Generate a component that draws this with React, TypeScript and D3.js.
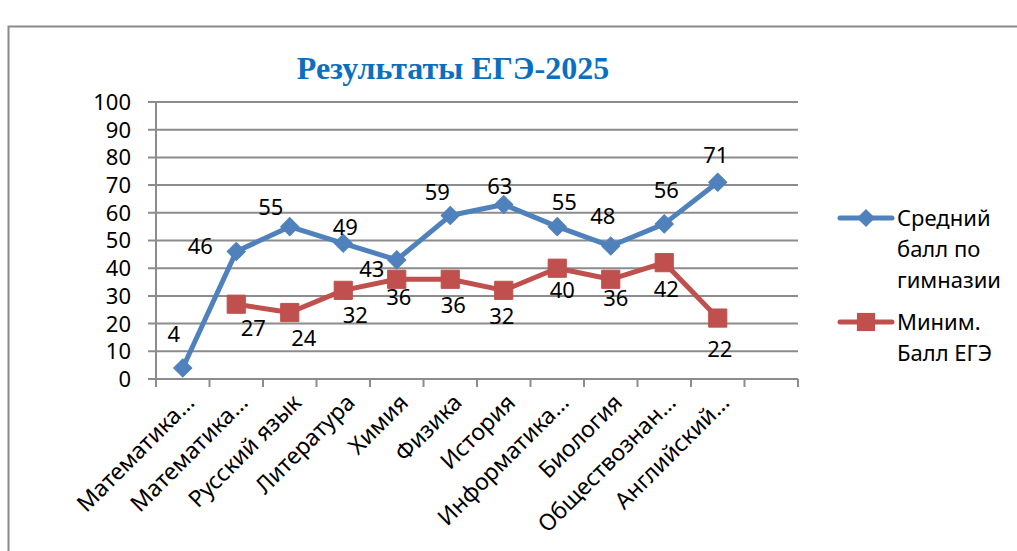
import React, { useEffect, useRef } from "react";
import * as d3 from "d3";

const categories = [
  "Математика…",
  "Математика…",
  "Русский язык",
  "Литература",
  "Химия",
  "Физика",
  "История",
  "Информатика…",
  "Биология",
  "Обществознан…",
  "Английский…",
  "",
];
const avgScores = [4, 46, 55, 49, 43, 59, 63, 55, 48, 56, 71, null];
const minScores = [null, 27, 24, 32, 36, 36, 32, 40, 36, 42, 22, null];
const yTicks = [0, 10, 20, 30, 40, 50, 60, 70, 80, 90, 100];
const seriesNames = [["Средний", "балл по", "гимназии"], ["Миним.", "Балл ЕГЭ"]];

// label nudges (Excel placed them by hand-ish)
const avgLabelShift = [
  [-9, -34], [-36, -6], [-19, -20], [2, -16], [-25, 9], [-13, -23],
  [-4, -18], [7, -25], [-8, -30], [2, -34], [-2, -27], [0, 0],
];
const minLabelShift = [
  [0, 0], [17, 24], [14, 26], [12, 25], [2, 18], [3, 26],
  [-2, 26], [5, 22], [5, 19], [2, 26], [2, 31], [0, 0],
];

const BLUE = "#4F81BD";
const RED = "#C0504D";
const GRID = "#8C8C8C";
const FONT = "'Noto Sans', sans-serif";

const App = () => {
  const ref = useRef<SVGSVGElement>(null);

  useEffect(() => {
    const width = 1017;
    const height = 551;
    const margin = { top: 102, left: 156, right: 219, bottom: 172 };

    const svg = d3.select(ref.current);
    svg.selectAll("*").remove();
    svg.attr("width", width).attr("height", height);

    svg.append("rect").attr("width", width).attr("height", height).attr("fill", "#fff");
    svg
      .append("rect")
      .attr("x", 8.5)
      .attr("y", 26.5)
      .attr("width", 1100)
      .attr("height", 700)
      .attr("fill", "none")
      .attr("stroke", "#8a8a8a")
      .attr("stroke-width", 2);

    const x = d3
      .scaleBand()
      .domain(categories.map((_, i) => String(i)))
      .range([margin.left, width - margin.right]);

    const y = d3
      .scaleLinear()
      .domain([0, 100])
      .range([height - margin.bottom, margin.top]);

    const cx = (i: number) => (x(String(i)) as number) + x.bandwidth() / 2;

    svg
      .append("text")
      .attr("x", 453)
      .attr("y", 79)
      .attr("text-anchor", "middle")
      .attr("font-family", "'Liberation Serif', serif")
      .attr("font-weight", "bold")
      .attr("font-size", 32)
      .attr("fill", "#0B6FC1")
      .text("Результаты ЕГЭ-2025");

    // gridlines
    svg
      .append("g")
      .selectAll("line")
      .data(yTicks)
      .enter()
      .append("line")
      .attr("x1", margin.left - 8)
      .attr("x2", width - margin.right)
      .attr("y1", (d) => y(d))
      .attr("y2", (d) => y(d))
      .attr("stroke", GRID)
      .attr("stroke-width", 2);

    // y axis
    svg
      .append("line")
      .attr("x1", margin.left)
      .attr("x2", margin.left)
      .attr("y1", y(100))
      .attr("y2", y(0) + 8)
      .attr("stroke", GRID)
      .attr("stroke-width", 2);

    svg
      .append("g")
      .selectAll("text")
      .data(yTicks)
      .enter()
      .append("text")
      .attr("x", margin.left - 25)
      .attr("y", (d) => y(d))
      .attr("dy", "0.36em")
      .attr("text-anchor", "end")
      .attr("font-family", FONT)
      .attr("font-size", 22)
      .attr("fill", "#000")
      .text((d) => d);

    // x ticks
    const bounds = categories.map((_, i) => x(String(i)) as number).concat([width - margin.right]);
    svg
      .append("g")
      .selectAll("line")
      .data(bounds)
      .enter()
      .append("line")
      .attr("x1", (d) => d)
      .attr("x2", (d) => d)
      .attr("y1", y(0))
      .attr("y2", y(0) + 8)
      .attr("stroke", GRID)
      .attr("stroke-width", 2);

    svg
      .append("g")
      .selectAll("text")
      .data(categories)
      .enter()
      .append("text")
      .attr("transform", (_, i) => `translate(${cx(i) + 13},${y(0) + 25}) rotate(-45)`)
      .attr("text-anchor", "end")
      .attr("font-family", FONT)
      .attr("font-size", 23)
      .attr("fill", "#000")
      .text((d) => d);

    const diamond = d3.symbol().type(d3.symbolSquare).size(165)();
    const square = d3.symbol().type(d3.symbolSquare).size(330)();

    const drawSeries = (
      values: (number | null)[],
      color: string,
      marker: string | null,
      rot: number,
      shift: number[][]
    ) => {
      const pts = values
        .map((v, i) => ({ v, i }))
        .filter((d) => d.v !== null) as { v: number; i: number }[];
      const line = d3
        .line<{ v: number; i: number }>()
        .x((d) => cx(d.i))
        .y((d) => y(d.v));
      svg
        .append("path")
        .datum(pts)
        .attr("d", line)
        .attr("fill", "none")
        .attr("stroke", color)
        .attr("stroke-width", 5)
        .attr("stroke-linejoin", "round");
      svg
        .append("g")
        .selectAll("path")
        .data(pts)
        .enter()
        .append("path")
        .attr("transform", (d) => `translate(${cx(d.i)},${y(d.v)}) rotate(${rot})`)
        .attr("d", marker)
        .attr("fill", color)
        .attr("stroke", color)
        .attr("stroke-width", 1);
      svg
        .append("g")
        .selectAll("text")
        .data(pts)
        .enter()
        .append("text")
        .attr("x", (d) => cx(d.i) + shift[d.i][0])
        .attr("y", (d) => y(d.v) + shift[d.i][1])
        .attr("dy", "0.36em")
        .attr("text-anchor", "middle")
        .attr("font-family", FONT)
        .attr("font-size", 22)
        .attr("fill", "#000")
        .text((d) => d.v);
    };

    drawSeries(avgScores, BLUE, diamond, 45, avgLabelShift);
    drawSeries(minScores, RED, square, 0, minLabelShift);

    // legend
    const legend = [
      { color: BLUE, marker: diamond, rot: 45, lines: seriesNames[0], y0: 218 },
      { color: RED, marker: square, rot: 0, lines: seriesNames[1], y0: 322 },
    ];
    legend.forEach((l) => {
      const g = svg.append("g");
      g.append("line")
        .attr("x1", 840)
        .attr("x2", 892)
        .attr("y1", l.y0)
        .attr("y2", l.y0)
        .attr("stroke", l.color)
        .attr("stroke-width", 5)
        .attr("stroke-linecap", "round");
      g.append("path")
        .attr("transform", `translate(866,${l.y0}) rotate(${l.rot})`)
        .attr("d", l.marker)
        .attr("fill", l.color);
      l.lines.forEach((t, k) => {
        g.append("text")
          .attr("x", 897)
          .attr("y", l.y0 + k * 31)
          .attr("dy", "0.36em")
          .attr("font-family", FONT)
          .attr("font-size", 22)
          .attr("fill", "#000")
          .text(t);
      });
    });
  }, []);

  return <svg ref={ref} style={{ position: "absolute", left: 0, top: 0 }}></svg>;
};

export default App;
